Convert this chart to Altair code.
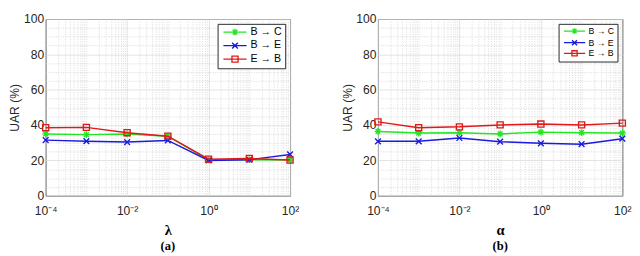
import math
import altair as alt
import pandas as pd

# ---- data ----
x_vals = [1e-4, 1e-3, 1e-2, 1e-1, 1, 10, 100]
series_names = ["B → C", "B → E", "E → B"]

# panel (a): lambda
bc_a = [35.0, 34.6, 35.0, 33.7, 20.4, 20.4, 20.2]
be_a = [31.5, 30.9, 30.4, 31.3, 20.0, 20.4, 23.4]
eb_a = [38.5, 38.7, 35.7, 33.7, 20.7, 21.1, 20.2]

# panel (b): alpha
bc_b = [36.4, 35.5, 35.7, 35.0, 36.0, 35.7, 35.5]
be_b = [30.8, 30.8, 32.7, 30.6, 29.7, 29.2, 32.3]
eb_b = [41.8, 38.5, 39.0, 40.1, 40.6, 40.1, 41.1]

x_major_ticks = [1e-4, 1e-2, 1, 100]
x_tick_labels = ["10⁻⁴", "10⁻²", "10⁰", "10²"]
y_tick_values = list(range(0, 101, 5))

# ---- styles ----
colors = {"B → C": "#22e622", "B → E": "#1a1ae0", "E → B": "#e01a1a"}
marker_paths = {
    "B → C": "M-1,0L1,0M0,-1L0,1M-0.7,-0.7L0.7,0.7M-0.7,0.7L0.7,-0.7",
    "B → E": "M-0.85,-0.85L0.85,0.85M-0.85,0.85L0.85,-0.85",
    "E → B": "M-0.9,-0.9L0.9,-0.9L0.9,0.9L-0.9,0.9Z",
}
FONT = "Liberation Sans"


def legend_paths(half):
    return [f"M-{half},0L{half},0" + marker_paths[s] for s in series_names]


def make_df(bc, be, eb):
    rows = []
    for name, vals in zip(series_names, [bc, be, eb]):
        for xv, yv in zip(x_vals, vals):
            rows.append({"x": xv, "uar": yv, "series": name})
    return pd.DataFrame(rows)


# axis helpers
expo = "(log(datum.value)/LN10)"
is_major_x = f"abs({expo} - round({expo})) < 1e-6 && round({expo}) % 2 == 0"
label_expr_x = ""
for v, lab in zip(x_major_ticks, x_tick_labels):
    e = int(round(math.log10(v)))
    label_expr_x += f"abs({expo} - ({e})) < 1e-6 ? '{lab}' : "
label_expr_x += "''"

x_grid_values = [m * 10.0 ** k for k in range(-4, 2) for m in range(1, 10)] + [100.0]


def panel(df, xtitle, caption, leg_font, leg_size, leg_half, leg_row):
    x_axis = alt.Axis(
        values=x_grid_values, labelExpr=label_expr_x, title=xtitle,
        labelOverlap=False, labelFlush=False, ticks=False, domain=False,
        labelFont=FONT, labelFontSize=12.5, labelColor="#262626", labelPadding=9,
        titleFont="Liberation Serif", titleFontWeight="bold", titleFontSize=15,
        titleColor="#000000", titlePadding=7,
        gridColor={"condition": {"test": is_major_x, "value": "#dadada"}, "value": "#cfcfcf"},
        gridDash={"condition": {"test": is_major_x, "value": []}, "value": [1, 1.5]},
        gridWidth=0.8,
    )
    is_major_y = "datum.value % 20 == 0"
    y_axis = alt.Axis(
        values=y_tick_values, labelExpr=f"{is_major_y} ? datum.label : ''",
        title="UAR (%)", labelOverlap=False, ticks=False, domain=False,
        labelFont=FONT, labelFontSize=12.5, labelColor="#262626", labelPadding=2,
        titleFont=FONT, titleFontSize=12.5, titleFontWeight="normal",
        titleColor="#262626", titlePadding=2,
        gridColor={"condition": {"test": is_major_y, "value": "#dadada"}, "value": "#cfcfcf"},
        gridDash={"condition": {"test": is_major_y, "value": []}, "value": [1, 1.5]},
        gridWidth=0.8,
    )
    x_enc = alt.X("x:Q", scale=alt.Scale(type="log", domain=[1e-4, 100], nice=False), axis=x_axis)
    y_enc = alt.Y("uar:Q", scale=alt.Scale(domain=[0, 100], nice=False), axis=y_axis)

    base = alt.Chart(df)
    layers = []
    for s in series_names:
        sub = base.transform_filter(alt.datum.series == s)
        layers.append(sub.mark_line(color=colors[s], strokeWidth=1.5).encode(x=x_enc, y=y_enc))
        layers.append(sub.mark_point(shape=marker_paths[s], color=colors[s], filled=False,
                                     size=49, strokeWidth=1.4, opacity=1).encode(x=x_enc, y=y_enc))

    sym = leg_size ** 0.5
    overhang = leg_half - sym / 2
    leg = alt.Legend(
        title=None, orient="top-right", offset=5, strokeColor="#262626", fillColor="white",
        padding=3, labelFont=FONT, labelFontSize=leg_font, labelColor="#000000",
        symbolOffset=round(overhang + 1, 2), labelOffset=round(overhang + 2, 2),
        symbolStrokeWidth=1.4, rowPadding=leg_row, symbolSize=leg_size,
    )
    half_units = round(leg_half / (sym / 2), 3)
    legend_layer = base.transform_filter("false").mark_point(
        filled=False, opacity=1, size=leg_size
    ).encode(
        color=alt.Color("series:N", scale=alt.Scale(domain=series_names,
                                                    range=[colors[s] for s in series_names]),
                        legend=leg),
        shape=alt.Shape("series:N", scale=alt.Scale(domain=series_names,
                                                    range=legend_paths(half_units)),
                        legend=leg),
    )
    layers.append(legend_layer)
    return alt.layer(*layers).properties(
        width=253, height=183,
        title=alt.TitleParams(caption, orient="bottom", font="Liberation Serif",
                              fontWeight="bold", fontSize=13, color="#000000",
                              offset=3, frame="group", anchor="middle"),
    )


left = panel(make_df(bc_a, be_a, eb_a), "λ", "(a)", 11, 49, 12, 1)
right = panel(make_df(bc_b, be_b, eb_b), "α", "(b)", 9, 36, 11, 0)

chart = alt.hconcat(left, right, spacing=42).resolve_scale(
    color="independent", shape="independent"
).resolve_legend(color="independent", shape="independent").properties(
    padding=0
).configure_view(stroke="#262626", strokeWidth=1)

chart.save("out.html", embed_options={"renderer": "svg", "actions": False})
